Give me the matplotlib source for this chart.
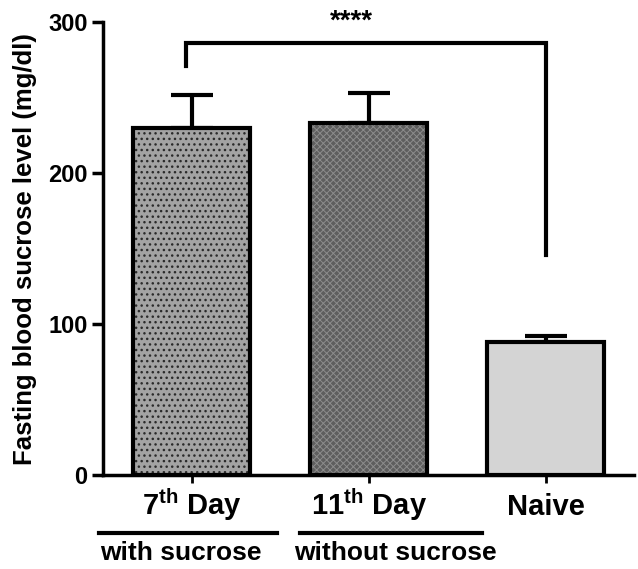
import matplotlib
matplotlib.use('Agg')
import matplotlib.pyplot as plt
import matplotlib.transforms as mtransforms

plt.rcParams['font.family'] = ['Liberation Sans', 'DejaVu Sans']
plt.rcParams['font.weight'] = 'bold'
plt.rcParams['mathtext.fontset'] = 'custom'
plt.rcParams['mathtext.rm'] = 'Liberation Sans'

groups = ['7$^{\\mathrm{th}}$ Day', '11$^{\\mathrm{th}}$ Day', 'Naive']
means = [230, 233, 88]
errors = [22, 20, 4]
fills = ['#a3a3a3', '#5e5e5e', '#d4d4d4']
hatches = ['...', 'xxxxx', '']
hatch_colors = ['#2a2a2a', '#8c8c8c', '#d4d4d4']
hatch_widths = [1.0, 0.7, 1.0]
conditions = ['with sucrose', 'without sucrose']
stars = '****'

fig = plt.figure(figsize=(6.38, 5.69), dpi=100)
ax = fig.add_axes([0.1614, 0.165, 0.833, 0.796])

x = list(range(len(groups)))
for i in x:
    with plt.rc_context({'hatch.linewidth': hatch_widths[i]}):
        ax.bar(i, means[i], width=0.66, color=fills[i], hatch=hatches[i],
               edgecolor=hatch_colors[i], linewidth=0, zorder=2)
    ax.bar(i, means[i], width=0.66, fill=False, edgecolor='black',
           linewidth=3, zorder=3)
    ax.errorbar(i, means[i], yerr=[[0], [errors[i]]], fmt='none',
                ecolor='black', elinewidth=3, capsize=15, capthick=3, zorder=1)

# significance bracket
ax.plot([-0.03, -0.03, 2.0, 2.0], [271, 286, 286, 146], color='black',
        lw=3, solid_joinstyle='miter', clip_on=False)
ax.text(0.9, 292, stars, ha='center', va='bottom', fontsize=20, fontweight='bold')

ax.set_xlim(-0.5, 2.5)
ax.set_ylim(0, 300)
ax.set_yticks([0, 100, 200, 300])
ax.set_xticks(x)
ax.set_xticklabels(groups, fontsize=21, fontweight='bold')
for lab in ax.get_xticklabels():
    lab.set_verticalalignment('baseline')
ax.tick_params(axis='y', length=8, width=2.5, labelsize=17, pad=3)
ax.tick_params(axis='x', length=6, width=2, pad=23)
for lab in ax.get_yticklabels():
    lab.set_fontweight('bold')
ax.set_ylabel('Fasting blood sucrose level (mg/dl)', fontsize=18.5,
              fontweight='bold', labelpad=8)

for s in ['top', 'right']:
    ax.spines[s].set_visible(False)
for s in ['left', 'bottom']:
    ax.spines[s].set_linewidth(2.5)

# condition underlines and labels below the x axis
trans = mtransforms.blended_transform_factory(ax.transData, ax.transAxes)
line_spans = [(-0.52, 0.48), (0.61, 1.64)]
text_centers = [-0.06, 1.15]
for (a, b), xc, name in zip(line_spans, text_centers, conditions):
    ax.plot([a, b], [-0.128, -0.128], color='black', lw=3, transform=trans,
            clip_on=False)
    ax.text(xc, -0.172, name, transform=trans, ha='center',
            va='center', fontsize=19, fontweight='bold')

fig.savefig('out.png', dpi=100)
